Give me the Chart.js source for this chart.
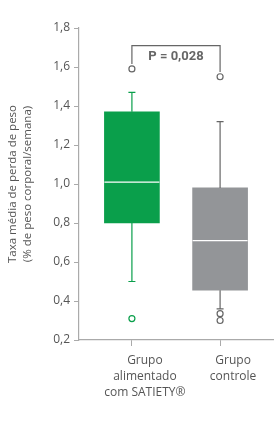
<!DOCTYPE html>
<html>
<head>
<meta charset="utf-8">
<script src="https://cdn.jsdelivr.net/npm/chart.js@4.4.0/dist/chart.umd.min.js"></script>
<style>
  html, body { margin: 0; padding: 0; background: #fff; }
  #wrap { width: 280px; height: 421px; }
</style>
</head>
<body>
<div id="wrap"><canvas id="boxChart" width="280" height="421"></canvas></div>
<script>
// chart values
const groups = [['Grupo', 'alimentado', 'com SATIETY®'], ['Grupo', 'controle']];
const boxLow = [0.80, 0.455];
const boxHigh = [1.37, 0.98];
const medians = [1.01, 0.71];
const whiskerLow = [0.50, 0.36];
const whiskerHigh = [1.47, 1.32];
const outliers = [[1.59, 0.31], [1.55, 0.335, 0.30]];
const pLabel = 'P = 0,028';
const bracketTop = 1.71;
const yTicks = [0.2, 0.4, 0.6, 0.8, 1.0, 1.2, 1.4, 1.6, 1.8];

const GREEN = '#0a9f4b';
const GRAY = '#939598';
const DARK = '#666666';
const boxColors = [GREEN, GRAY];
const whiskerColors = [GREEN, DARK];

const outlierPoints = [];
outliers.forEach((list, i) => {
    list.forEach(v => outlierPoints.push({x: i, y: v}));
});

// whiskers, medians and the p-value bracket
const boxExtras = {
    id: 'boxExtras',
    afterDatasetsDraw(chart) {
        const {ctx, scales: {x, y}} = chart;
        ctx.save();
        groups.forEach((g, i) => {
            const cx = x.getPixelForValue(i);
            ctx.strokeStyle = whiskerColors[i];
            ctx.lineWidth = 1.2;
            ctx.beginPath();
            ctx.moveTo(cx, y.getPixelForValue(boxHigh[i]));
            ctx.lineTo(cx, y.getPixelForValue(whiskerHigh[i]));
            ctx.moveTo(cx - 3.5, y.getPixelForValue(whiskerHigh[i]));
            ctx.lineTo(cx + 3.5, y.getPixelForValue(whiskerHigh[i]));
            ctx.moveTo(cx, y.getPixelForValue(boxLow[i]));
            ctx.lineTo(cx, y.getPixelForValue(whiskerLow[i]));
            ctx.moveTo(cx - 3.5, y.getPixelForValue(whiskerLow[i]));
            ctx.lineTo(cx + 3.5, y.getPixelForValue(whiskerLow[i]));
            ctx.stroke();

            // median
            const half = 27.5;
            ctx.strokeStyle = '#ffffff';
            ctx.lineWidth = 1.2;
            ctx.beginPath();
            ctx.moveTo(cx - half, y.getPixelForValue(medians[i]));
            ctx.lineTo(cx + half, y.getPixelForValue(medians[i]));
            ctx.stroke();
        });

        // bracket
        const x0 = x.getPixelForValue(0);
        const x1 = x.getPixelForValue(1);
        const top = y.getPixelForValue(bracketTop);
        ctx.strokeStyle = DARK;
        ctx.lineWidth = 1.2;
        ctx.beginPath();
        ctx.moveTo(x0, y.getPixelForValue(Math.max(...outliers[0]) + 0.025));
        ctx.lineTo(x0, top);
        ctx.lineTo(x1, top);
        ctx.lineTo(x1, y.getPixelForValue(Math.max(...outliers[1]) + 0.025));
        ctx.stroke();

        ctx.fillStyle = DARK;
        ctx.font = 'bold 13px Roboto';
        ctx.textAlign = 'center';
        ctx.textBaseline = 'middle';
        ctx.fillText(pLabel, (x0 + x1) / 2, top + 11);
        ctx.restore();
    }
};

const chart = new Chart(document.getElementById('boxChart'), {
    data: {
        datasets: [{
            type: 'bar',
            data: groups.map((g, i) => ({x: i, y: [boxLow[i], boxHigh[i]]})),
            backgroundColor: boxColors,
            borderWidth: 0,
            barThickness: 55,
            order: 2
        }, {
            type: 'scatter',
            data: outlierPoints,
            pointRadius: 3,
            pointBorderWidth: 1.2,
            pointBackgroundColor: '#ffffff',
            pointBorderColor: (c) => (c.raw && c.raw.x === 0 && c.raw.y < 1) ? GREEN : DARK,
            order: 1
        }]
    },
    options: {
        responsive: false,
        animation: false,
        layout: {padding: {top: 28, right: 7, left: 0, bottom: 0}},
        plugins: {legend: {display: false}, tooltip: {enabled: false}},
        scales: {
            x: {
                type: 'linear',
                min: -0.6,
                max: 1.6,
                offset: false,
                afterBuildTicks: (s) => { s.ticks = [{value: 0}, {value: 1}]; },
                afterFit: (s) => { s.height = 81; },
                border: {color: '#aaaaaa', width: 1.2},
                grid: {drawOnChartArea: false, offset: false, tickLength: 6, color: '#aaaaaa'},
                ticks: {
                    callback: (v) => groups[v],
                    maxRotation: 0,
                    autoSkip: false,
                    labelOffset: 13,
                    padding: 7,
                    color: '#555555',
                    font: {family: 'Open Sans', size: 12, lineHeight: 1.33}
                }
            },
            y: {
                min: 0.2,
                max: 1.8,
                afterBuildTicks: (s) => { s.ticks = yTicks.map(v => ({value: v})); },
                afterFit: (s) => { s.width = 79; },
                border: {color: '#aaaaaa', width: 1.2},
                grid: {drawOnChartArea: false, tickLength: 5, color: '#aaaaaa'},
                ticks: {
                    callback: (v) => v.toFixed(1).replace('.', ','),
                    padding: 4,
                    color: '#555555',
                    font: {family: 'Open Sans', size: 12}
                },
                title: {
                    display: true,
                    text: ['Taxa média de perda de peso', '(% de peso corporal/semana)'],
                    color: '#555555',
                    padding: {top: 5, bottom: 0},
                    font: {family: 'Open Sans', size: 11.5, lineHeight: 1.3}
                }
            }
        }
    },
    plugins: [boxExtras]
});
</script>
</body>
</html>
